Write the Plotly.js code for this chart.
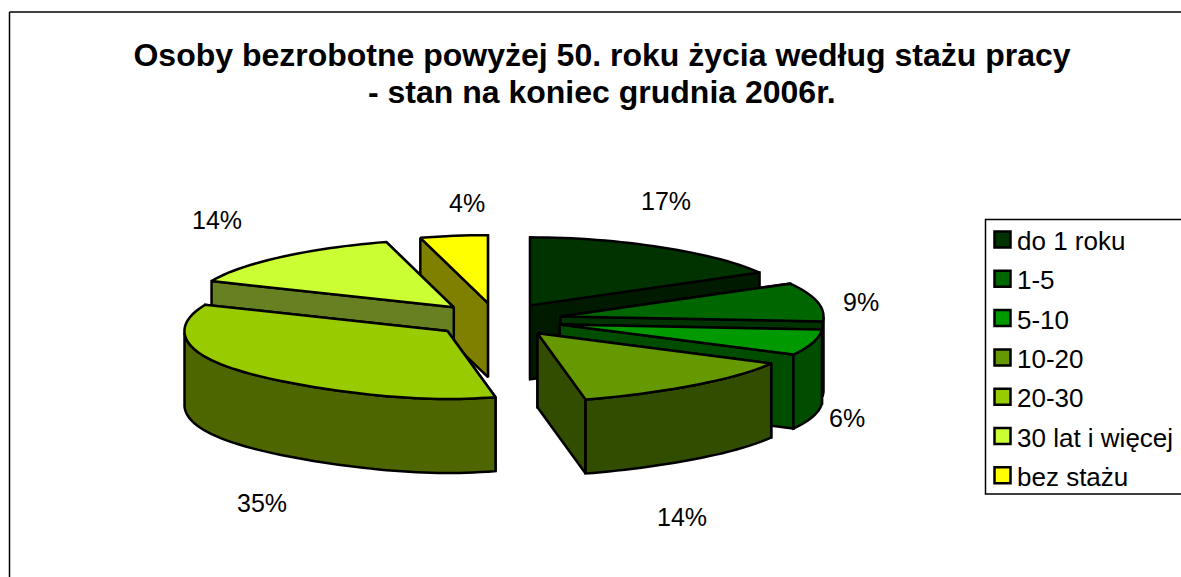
<!DOCTYPE html>
<html><head><meta charset="utf-8">
<script src="https://cdn.plot.ly/plotly-3.0.1.min.js"></script>
<style>html,body{margin:0;padding:0;background:#fff;overflow:hidden}#c{width:1181px;height:577px}</style>
</head><body><div id="c"></div>
<script>
// Data
const categories = ['do 1 roku','1-5','5-10','10-20','20-30','30 lat i więcej','bez stażu'];
const values = [17.0,9.2,6.1,14.0,35.0,14.25,4.45];
const topColors = ['#003300','#006600','#009900','#669900','#99CC00','#CCFF33','#FFFF00'];
const wallColors = ['#001A00','#003300','#004D00','#334D00','#4D6600','#668022','#808000'];
const paintOrder = [6,5,0,1,2,4,3];
const labelX = [666,861,847,682,262,217,467];
const labelY = [201,302,418,517,503,220,203];
const titleLine1 = '<b>Osoby bezrobotne powyżej 50. roku życia według stażu pracy</b>';
const titleLine2 = '<b>- stan na koniec grudnia 2006r.</b>';

// Projection of the tilted, exploded pie onto the plot axes
const cx=497, cy=320, rx=263, ry=68, ex=65, ey=17, depth=74;
const FONT='"Liberation Sans", Arial, sans-serif';
const total=values.reduce((a,b)=>a+b,0);
const rad=d=>d*Math.PI/180;
const px=t=>{const c=Math.cos(t);return rx*Math.sin(t)*(1-(c>0?0.08:0.23)*Math.pow(c,4));};
const py=t=>-ry*Math.cos(t);
function poly(xs,ys,fill){
  return {type:'scatter',mode:'lines',x:xs.concat(xs[0]),y:ys.concat(ys[0]),fill:'toself',fillcolor:fill,
          line:{color:'#000',width:2.5,simplify:false},hoverinfo:'skip',showlegend:false};
}
const traces=[];
let cum=0; const spans=values.map(v=>{const a=cum/total*360;cum+=v;return [a,cum/total*360];});
paintOrder.forEach(i=>{
  const a=rad(spans[i][0]), b=rad(spans[i][1]), m=(a+b)/2;
  const ax=cx+ex*Math.sin(m), ay=cy-ey*Math.cos(m);
  const steps=Math.max(8,Math.round((b-a)/rad(2)));
  const arc=[]; for(let k=0;k<=steps;k++) arc.push(a+(b-a)*k/steps);
  // radial walls: the one that faces the viewer goes last
  (m>Math.PI?[b,a]:[a,b]).forEach(t=>{
    const x1=ax+px(t), y1=ay+py(t);
    traces.push(poly([ax,x1,x1,ax],[ay,y1,y1+depth,ay+depth],wallColors[i]));
  });
  // outer wall: front facing part of the rim only
  const front=arc.filter(t=>t>=Math.PI/2 && t<=3*Math.PI/2);
  if(front.length>1){
    const xs=front.map(t=>ax+px(t)), ys=front.map(t=>ay+py(t));
    traces.push(poly(xs.concat(xs.slice().reverse()),ys.concat(ys.slice().reverse().map(y=>y+depth)),wallColors[i]));
  }
  // top face
  traces.push(poly([ax].concat(arc.map(t=>ax+px(t))),[ay].concat(arc.map(t=>ay+py(t))),topColors[i]));
});

const annotations=values.map((v,i)=>({x:labelX[i],y:labelY[i],xref:'x',yref:'y',text:Math.round(v)+'%',showarrow:false,
   xanchor:'center',yanchor:'middle',font:{family:FONT,size:25,color:'#000'}}));
annotations.push({x:602,y:92,xref:'x',yref:'y',text:titleLine2,showarrow:false,xanchor:'center',yanchor:'middle',
   font:{family:FONT,size:32,color:'#000'}});
const shapes=[
  {type:'line',xref:'x',yref:'y',x0:9.5,x1:9.5,y0:12,y1:577,line:{color:'#000',width:1.5}},
  {type:'line',xref:'x',yref:'y',x0:9.5,x1:1181,y0:12,y1:12,line:{color:'#000',width:1.5}},
  {type:'rect',xref:'x',yref:'y',x0:985.5,x1:1190,y0:219.5,y1:494,line:{color:'#000',width:1.5},fillcolor:'rgba(0,0,0,0)'}
];
categories.forEach((c,i)=>{
  const yc=239.5+i*39.3;
  shapes.push({type:'rect',xref:'x',yref:'y',x0:994.5,x1:1010.5,y0:yc-8,y1:yc+8,fillcolor:topColors[i],line:{color:'#000',width:2.5}});
  annotations.push({x:1015,y:yc+1.5,xref:'x',yref:'y',text:c,showarrow:false,xanchor:'left',yanchor:'middle',
     font:{family:FONT,size:26,color:'#000'}});
});
const layout={width:1181,height:577,margin:{l:0,r:0,t:0,b:0},paper_bgcolor:'#fff',plot_bgcolor:'#fff',showlegend:false,
  title:{text:titleLine1,x:602/1181,xanchor:'center',y:1-55/577,yanchor:'middle',font:{family:FONT,size:32,color:'#000'}},
  xaxis:{range:[0,1181],visible:false,fixedrange:true},
  yaxis:{range:[577,0],visible:false,fixedrange:true},
  shapes,annotations};
Plotly.newPlot('c',traces,layout,{displayModeBar:false,staticPlot:true});
</script></body></html>
